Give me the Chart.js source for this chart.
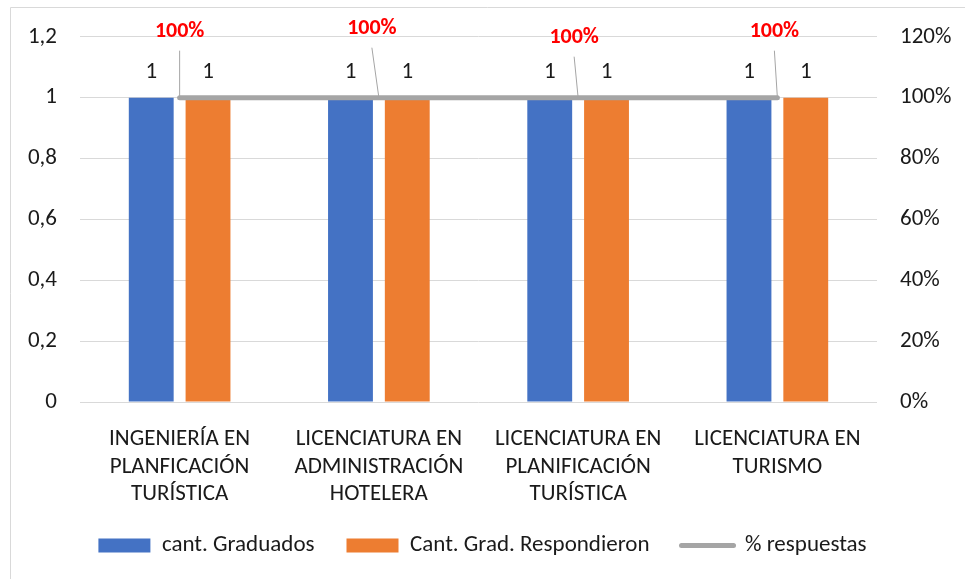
<!DOCTYPE html>
<html lang="es">
<head>
    <meta charset="UTF-8">
    <title>Graduados y respuestas</title>
    <script src="https://cdn.jsdelivr.net/npm/chart.js"></script>
    <style>
        body { margin: 0; background: #fff; }
        #grafico { display: block; }
    </style>
</head>
<body>
    <canvas id="grafico" width="965" height="579"></canvas>

    <script>
        // Datos del grafico
        const carreras = [
            ['INGENIERÍA EN', 'PLANFICACIÓN', 'TURÍSTICA'],
            ['LICENCIATURA EN', 'ADMINISTRACIÓN', 'HOTELERA'],
            ['LICENCIATURA EN', 'PLANIFICACIÓN', 'TURÍSTICA'],
            ['LICENCIATURA EN', 'TURISMO']
        ];
        const graduados = [1, 1, 1, 1];
        const respondieron = [1, 1, 1, 1];
        const porcentaje = [1, 1, 1, 1]; // 1 = 100%

        const fuente = 'Carlito, Lato, "Liberation Sans", sans-serif';
        const texto = '#1a1a1a';

        // pequeños desplazamientos de las etiquetas rojas (como en Excel)
        const desplazaEtiqueta = [[0, -66], [-7, -69], [-4, -60], [-3, -66]];

        const formatoIzq = v => String(Number(v.toFixed(1))).replace('.', ',');
        const formatoDer = v => Math.round(v * 100) + '%';

        // Borde del area del grafico
        const bordePlugin = {
            id: 'borde',
            beforeDraw(chart) {
                const ctx = chart.ctx;
                ctx.save();
                ctx.strokeStyle = '#d9d9d9';
                ctx.lineWidth = 1;
                ctx.beginPath();
                ctx.moveTo(10.5, 579);
                ctx.lineTo(10.5, 7.5);
                ctx.lineTo(965, 7.5);
                ctx.stroke();
                ctx.restore();
            }
        };

        // Etiquetas de datos
        const etiquetasPlugin = {
            id: 'etiquetas',
            afterDatasetsDraw(chart) {
                const ctx = chart.ctx;
                ctx.save();
                ctx.textAlign = 'center';
                ctx.textBaseline = 'middle';
                chart.data.datasets.forEach((ds, i) => {
                    const meta = chart.getDatasetMeta(i);
                    meta.data.forEach((el, j) => {
                        if (ds.type === 'line') {
                            const [dx, dy] = desplazaEtiqueta[j];
                            const lx = el.x + dx, ly = el.y + dy;
                            ctx.strokeStyle = '#a5a5a5';
                            ctx.lineWidth = 1;
                            ctx.beginPath();
                            ctx.moveTo(lx, ly + 19);
                            ctx.lineTo(el.x, el.y);
                            ctx.stroke();
                            ctx.fillStyle = '#ff0000';
                            ctx.font = 'bold 22px ' + fuente;
                            ctx.fillText(formatoDer(ds.data[j]), lx, ly);
                        } else {
                            ctx.fillStyle = texto;
                            ctx.font = '23px ' + fuente;
                            ctx.fillText(formatoIzq(ds.data[j]), el.x, el.y - 25);
                        }
                    });
                });
                ctx.restore();
            }
        };

        new Chart(document.getElementById('grafico'), {
            data: {
                labels: carreras,
                datasets: [
                    {
                        type: 'bar',
                        label: 'cant. Graduados',
                        data: graduados,
                        backgroundColor: '#4472c4',
                        yAxisID: 'y',
                        categoryPercentage: 0.57,
                        barPercentage: 0.79,
                        borderWidth: 0
                    },
                    {
                        type: 'bar',
                        label: 'Cant. Grad. Respondieron',
                        data: respondieron,
                        backgroundColor: '#ed7d31',
                        yAxisID: 'y',
                        categoryPercentage: 0.57,
                        barPercentage: 0.79,
                        borderWidth: 0
                    },
                    {
                        type: 'line',
                        label: '% respuestas',
                        data: porcentaje,
                        borderColor: '#a5a5a5',
                        backgroundColor: '#a5a5a5',
                        borderWidth: 5,
                        borderCapStyle: 'round',
                        pointRadius: 0,
                        pointStyle: 'line',
                        yAxisID: 'y1',
                        order: -1
                    }
                ]
            },
            options: {
                responsive: false,
                animation: false,
                devicePixelRatio: 1,
                layout: { padding: { top: 36, bottom: 12, left: 0, right: 0 } },
                plugins: {
                    tooltip: { enabled: false },
                    legend: {
                        position: 'bottom',
                        labels: {
                            usePointStyle: true,
                            pointStyleWidth: 52,
                            boxHeight: 14,
                            padding: 32,
                            color: texto,
                            font: { family: fuente, size: 23 },
                            sort: (a, b) => a.datasetIndex - b.datasetIndex,
                            generateLabels(chart) {
                                const items = Chart.defaults.plugins.legend.labels.generateLabels(chart);
                                items.forEach(it => {
                                    const ds = chart.data.datasets[it.datasetIndex];
                                    it.pointStyle = ds.type === 'line' ? 'line' : 'rect';
                                    it.lineWidth = ds.type === 'line' ? 5 : 0;
                                    it.lineCap = 'round';
                                });
                                return items;
                            }
                        }
                    }
                },
                scales: {
                    x: {
                        grid: { display: false },
                        border: { display: false },
                        ticks: {
                            color: texto,
                            font: { family: fuente, size: 23, lineHeight: 1.19 },
                            padding: 16,
                            maxRotation: 0,
                            autoSkip: false
                        },
                        afterFit(scale) { scale.height = 100; }
                    },
                    y: {
                        position: 'left',
                        min: 0,
                        max: 1.2,
                        grid: { color: '#d9d9d9', drawTicks: false },
                        border: { display: false },
                        ticks: {
                            stepSize: 0.2,
                            padding: 23,
                            color: texto,
                            font: { family: fuente, size: 23 },
                            callback: v => formatoIzq(v)
                        },
                        afterFit(scale) { scale.width = 80; }
                    },
                    y1: {
                        position: 'right',
                        min: 0,
                        max: 1.2,
                        grid: { display: false, drawTicks: false },
                        border: { display: false },
                        ticks: {
                            stepSize: 0.2,
                            padding: 23,
                            color: texto,
                            font: { family: fuente, size: 23 },
                            callback: v => formatoDer(v)
                        },
                        afterFit(scale) { scale.width = 88; }
                    }
                }
            },
            plugins: [bordePlugin, etiquetasPlugin]
        });
    </script>
</body>
</html>
